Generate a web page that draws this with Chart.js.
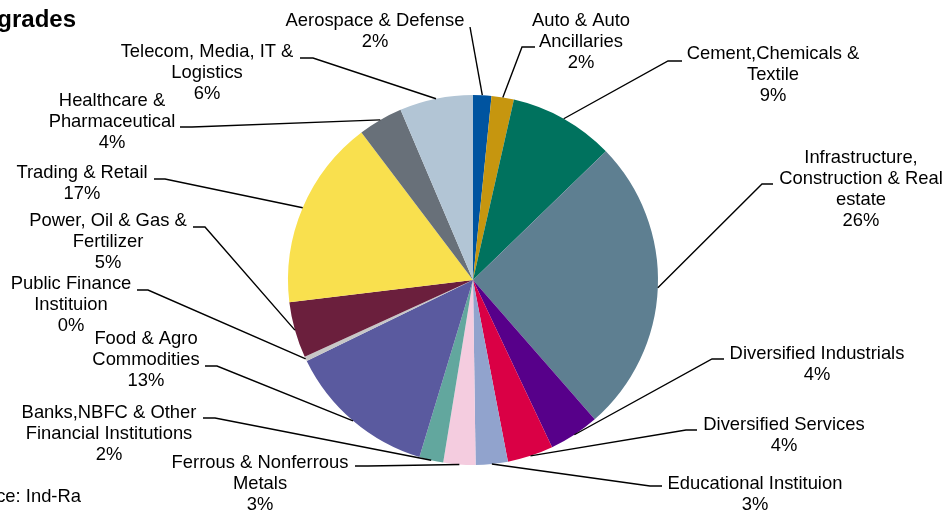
<!DOCTYPE html>
<html>
<head>
<meta charset="utf-8">
<script src="https://cdn.jsdelivr.net/npm/chart.js@4/dist/chart.umd.min.js"></script>
<style>
  html, body { margin: 0; padding: 0; background: #ffffff; }
  #wrap { position: relative; width: 947px; height: 512px; }
</style>
</head>
<body>
<div id="wrap"><canvas id="sectorChart"></canvas></div>
<script>
// Sector names (clockwise from 12 o'clock), lines split for the labels
const sectors = [
    ['Aerospace & Defense'],
    ['Auto & Auto', 'Ancillaries'],
    ['Cement,Chemicals &', 'Textile'],
    ['Infrastructure,', 'Construction & Real', 'estate'],
    ['Diversified Industrials'],
    ['Diversified Services'],
    ['Educational Instituion'],
    ['Ferrous & Nonferrous', 'Metals'],
    ['Banks,NBFC & Other', 'Financial Institutions'],
    ['Food & Agro', 'Commodities'],
    ['Public Finance', 'Instituion'],
    ['Power, Oil & Gas &', 'Fertilizer'],
    ['Trading & Retail'],
    ['Healthcare &', 'Pharmaceutical'],
    ['Telecom, Media, IT &', 'Logistics']
];

// Share of downgrades, %
const shares = [1.6, 1.95, 9.2, 25.8, 4.4, 4.0, 2.8, 2.8, 2.1, 13.1, 0.4, 4.9, 16.6, 3.9, 6.4];

const sliceColors = [
    '#0054a0', '#c6960f', '#00725e', '#5e7f91', '#57008a',
    '#da0045', '#91a3cd', '#f4ccdf', '#62a79e', '#5a5a9f',
    '#c7c7c7', '#6b1f3d', '#f9e04e', '#687079', '#b2c5d5'
];

const titleText = 'grades';
const sourceText = 'ce: Ind-Ra';

// label layout: text centre x, first line y, text-side end of leader, elbow
const labelLayout = [
    { x: 375, y: 21,  end: [470, 27],  elbow: [470, 27] },
    { x: 581, y: 21,  end: [535, 47],  elbow: [522, 47] },
    { x: 773, y: 54,  end: [682, 61],  elbow: [668, 61] },
    { x: 861, y: 158, end: [773, 184], elbow: [762, 184] },
    { x: 817, y: 354, end: [724, 359], elbow: [712, 359] },
    { x: 784, y: 425, end: [697, 430], elbow: [686, 430] },
    { x: 755, y: 484, end: [662, 486], elbow: [650, 486] },
    { x: 260, y: 463, end: [355, 466], elbow: [368, 466] },
    { x: 109, y: 413, end: [203, 418], elbow: [215, 418] },
    { x: 146, y: 339, end: [205, 366], elbow: [217, 366] },
    { x: 71,  y: 284, end: [137, 290], elbow: [148, 290] },
    { x: 108, y: 221, end: [193, 227], elbow: [205, 227] },
    { x: 82,  y: 173, end: [154, 179], elbow: [165, 179] },
    { x: 112, y: 101, end: [180, 127], elbow: [192, 127] },
    { x: 207, y: 52,  end: [300, 58],  elbow: [313, 58] }
];

const labelFont = '18.4px "Liberation Sans", Arial, sans-serif';
const lineGap = 21;

const outsideLabels = {
    id: 'outsideLabels',
    afterDatasetsDraw(chart) {
        const ctx = chart.ctx;
        const arcs = chart.getDatasetMeta(0).data;
        const total = shares.reduce((a, b) => a + b, 0);
        ctx.save();

        // leader lines
        ctx.strokeStyle = '#000000';
        ctx.lineWidth = 1.4;
        arcs.forEach((arc, i) => {
            const p = arc.getProps(['x', 'y', 'startAngle', 'endAngle', 'outerRadius'], true);
            const mid = (p.startAngle + p.endAngle) / 2;
            const ax = p.x + Math.cos(mid) * p.outerRadius;
            const ay = p.y + Math.sin(mid) * p.outerRadius;
            const lay = labelLayout[i];
            ctx.beginPath();
            ctx.moveTo(lay.end[0], lay.end[1]);
            ctx.lineTo(lay.elbow[0], lay.elbow[1]);
            ctx.lineTo(ax, ay);
            ctx.stroke();
        });

        // label text
        ctx.font = labelFont;
        ctx.fillStyle = '#000000';
        ctx.textAlign = 'center';
        ctx.textBaseline = 'middle';
        sectors.forEach((lines, i) => {
            const lay = labelLayout[i];
            const pct = Math.round(shares[i] / total * 100) + '%';
            lines.concat([pct]).forEach((t, k) => {
                ctx.fillText(t, lay.x, lay.y + k * lineGap);
            });
        });

        // cropped title and source
        ctx.textAlign = 'right';
        ctx.font = 'bold 24px "Liberation Sans", Arial, sans-serif';
        ctx.fillText(titleText, 76, 20);
        ctx.font = labelFont;
        ctx.fillText(sourceText, 81, 497);
        ctx.restore();
    }
};

document.addEventListener('DOMContentLoaded', function () {
    const ctx = document.getElementById('sectorChart');

    new Chart(ctx, {
        type: 'pie',
        data: {
            labels: sectors.map(s => s.join(' ')),
            datasets: [{
                data: shares,
                backgroundColor: sliceColors,
                borderWidth: 0
            }]
        },
        options: {
            responsive: true,
            maintainAspectRatio: false,
            animation: false,
            layout: {
                padding: { left: 288, right: 289, top: 95, bottom: 47 }
            },
            plugins: {
                legend: { display: false },
                tooltip: { enabled: false }
            }
        },
        plugins: [outsideLabels]
    });
});
</script>
</body>
</html>
